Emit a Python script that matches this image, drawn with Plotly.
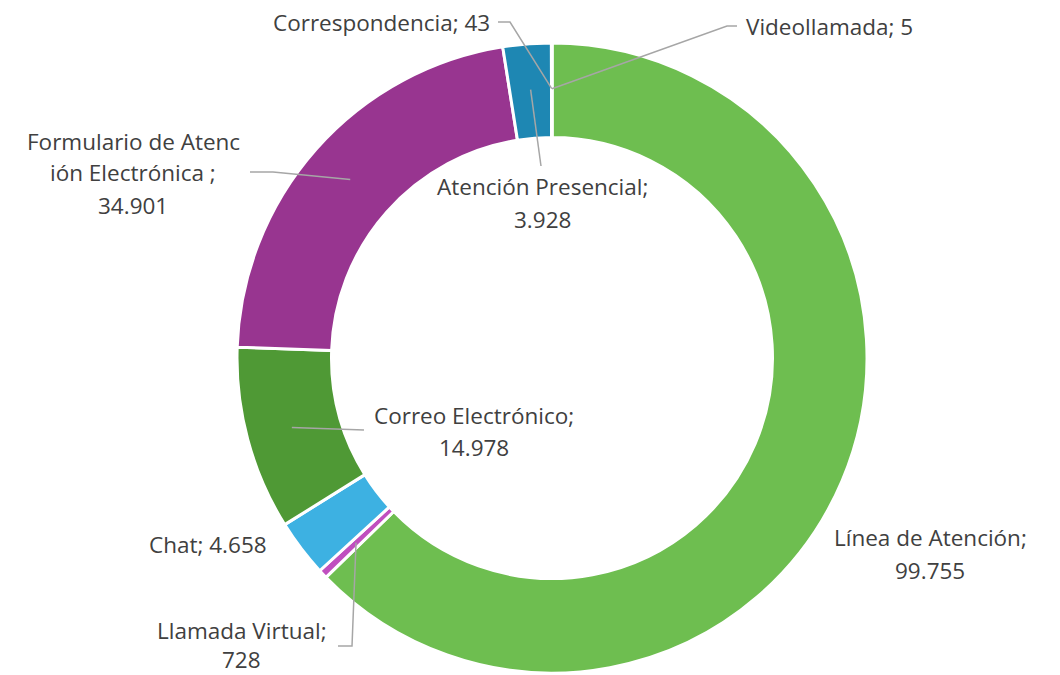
import math
import plotly.graph_objects as go

# datos
canales = ["Línea de Atención", "Llamada Virtual", "Chat", "Correo Electrónico",
           "Formulario de Atención Electrónica", "Atención Presencial",
           "Correspondencia", "Videollamada"]
valores = [99755, 728, 4658, 14978, 34901, 3928, 43, 5]
textos = [["Línea de Atención;", "99.755"],
          ["Llamada Virtual;", "728"],
          ["Chat; 4.658"],
          ["Correo Electrónico;", "14.978"],
          ["Formulario de Atenc", "ión Electrónica ;", "34.901"],
          ["Atención Presencial;", "3.928"],
          ["Correspondencia; 43"],
          ["Videollamada; 5"]]
colores = ["#6ebe50", "#c04fbf", "#3db1e2", "#4f9935",
           "#983590", "#1e87b3", "#1a6f9a", "#2a8a5a"]

# la pagina deja 8px de margen al cuerpo: la figura se reduce y se desplaza
OFF = 8
W, H = 1060 - OFF, 675 - OFF
cx, cy, R = 552, 358, 315      # centro y radio del anillo (px de la ventana)
r_ancla = 0.855 * R

# posicion de etiquetas (px): x, y de cada linea, alineacion, codo de la guia
pos = [
    dict(x=930, ys=[537, 570], xa="center", codo=None),
    dict(x=242, ys=[630, 659], xa="center", codo=[(352, 646), (338, 646)]),
    dict(x=268, ys=[544], xa="right", codo=None),
    dict(x=474, ys=[415, 447], xa="center", codo=[(364, 430)]),
    dict(x=133, ys=[141, 173, 205], xa="center", codo=[(273, 172), (250, 172)]),
    dict(x=542, ys=[187, 219], xa="center", codo=[(541, 166)]),
    dict(x=491, ys=[23], xa="right", codo=[(510, 22), (498, 22)]),
    dict(x=745, ys=[26], xa="left", codo=[(727, 26), (737, 26)]),
]


def px(x, y):
    return (x - OFF) / W, 1 - (y - OFF) / H


x0d, y1d = px(cx - R, cy - R)
x1d, y0d = px(cx + R, cy + R)

fig = go.Figure(go.Pie(
    labels=canales, values=valores, hole=0.7, sort=False,
    direction="clockwise", rotation=0,
    marker=dict(colors=colores, line=dict(color="white", width=3)),
    textinfo="none", hoverinfo="label+value",
    domain=dict(x=[x0d, x1d], y=[y0d, y1d]),
))

total = sum(valores)
acum = 0
anotaciones, formas = [], []
for i, v in enumerate(valores):
    ang = 2 * math.pi * (acum + v / 2) / total
    acum += v
    ax = cx + r_ancla * math.sin(ang)
    ay = cy - r_ancla * math.cos(ang)
    p = pos[i]
    if p["codo"]:
        pts = [px(ax, ay)] + [px(*c) for c in p["codo"]]
        path = "M " + " L ".join(f"{a:.5f},{b:.5f}" for a, b in pts)
        formas.append(dict(type="path", xref="paper", yref="paper", path=path,
                           line=dict(color="#a6a6a6", width=1.5)))
    for linea, yy in zip(textos[i], p["ys"]):
        xa, ya = px(p["x"], yy)
        anotaciones.append(dict(text=linea, x=xa, y=ya, xref="paper", yref="paper",
                                xanchor=p["xa"], yanchor="middle", showarrow=False,
                                borderpad=0,
                                font=dict(size=22.5, color="#404040")))

fig.update_layout(
    width=W, height=H,
    margin=dict(l=0, r=0, t=0, b=0),
    paper_bgcolor="white", plot_bgcolor="white",
    showlegend=False,
    font=dict(family="Open Sans, Lato, sans-serif", color="#404040"),
    annotations=anotaciones, shapes=formas,
)

fig.write_html("out.html")
